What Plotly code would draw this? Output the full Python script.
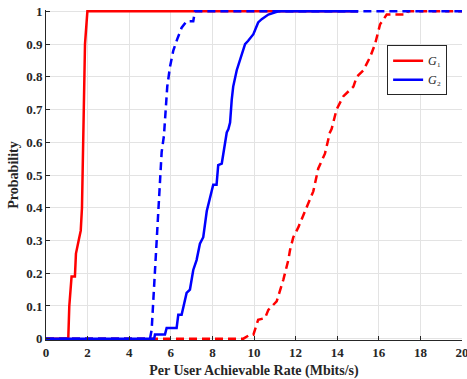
import plotly.graph_objects as go

# Red solid (G1)
g1_x = [0, 1.07, 1.12, 1.23, 1.39, 1.44, 1.57, 1.67, 1.73, 1.79, 1.875, 1.99, 15.0]
g1_y = [0, 0, 0.10, 0.19, 0.19, 0.26, 0.30, 0.33, 0.40, 0.63, 0.90, 1.0, 1.0]

# Red dashed
r2_x = [0, 9.49, 9.8, 9.97, 10.2, 10.53, 10.69, 11.09, 11.41, 11.65, 11.73, 11.89, 12.13,
        12.53, 12.85, 13.09, 13.41, 13.65, 13.73, 13.97, 14.29, 14.78, 14.94, 15.26, 15.58,
        15.82, 16.06, 16.38, 17.34, 17.4, 20]
r2_y = [0, 0, 0.012, 0.012, 0.058, 0.063, 0.088, 0.114, 0.18, 0.24, 0.27, 0.31, 0.34,
        0.40, 0.45, 0.52, 0.565, 0.63, 0.64, 0.70, 0.74, 0.77, 0.80, 0.82, 0.86,
        0.90, 0.96, 0.99, 0.99, 1.0, 1.0]

# Blue dashed
b2_x = [0, 5.0, 5.08, 5.16, 5.29, 5.32, 5.4, 5.48, 5.56, 5.67, 5.72, 5.83, 5.96, 6.12,
        6.31, 6.52, 6.76, 7.08, 7.16, 20]
b2_y = [0, 0, 0.027, 0.12, 0.26, 0.29, 0.40, 0.49, 0.57, 0.62, 0.66, 0.77, 0.83, 0.88,
        0.915, 0.95, 0.97, 0.97, 1.0, 1.0]

# Blue solid (G2)
g2_x = [0, 5.2, 5.24, 5.72, 5.8, 6.28, 6.36, 6.52, 6.76, 6.92, 7.08, 7.24, 7.4, 7.56,
        7.73, 8.04, 8.2, 8.28, 8.45, 8.6, 8.69, 8.77, 8.85, 8.93, 9.0, 9.17, 9.41, 9.57,
        9.72, 9.97, 10.2, 10.37, 10.69, 11.09, 11.17, 15.0]
g2_y = [0, 0, 0.013, 0.013, 0.033, 0.033, 0.073, 0.073, 0.14, 0.15, 0.21, 0.24, 0.29, 0.31,
        0.39, 0.47, 0.47, 0.53, 0.535, 0.60, 0.63, 0.64, 0.66, 0.73, 0.77, 0.82, 0.865, 0.90,
        0.91, 0.93, 0.966, 0.976, 0.99, 0.997, 1.0, 1.0]

x_ticks = list(range(0, 21, 2))
y_ticks = [0, 0.1, 0.2, 0.3, 0.4, 0.5, 0.6, 0.7, 0.8, 0.9, 1]
y_labels = ["0", "0.1", "0.2", "0.3", "0.4", "0.5", "0.6", "0.7", "0.8", "0.9", "1"]
series_names = ["<i>G</i>\u2081", "<i>G</i>\u2082"]

RED = "#ff0000"
BLUE = "#0000ff"
DASH = "8px,5px"

fig = go.Figure()
fig.add_trace(go.Scatter(x=g1_x, y=g1_y, mode="lines", name=series_names[0],
                         line=dict(color=RED, width=2.5)))
fig.add_trace(go.Scatter(x=r2_x, y=r2_y, mode="lines", showlegend=False,
                         line=dict(color=RED, width=2.5, dash=DASH)))
fig.add_trace(go.Scatter(x=b2_x, y=b2_y, mode="lines", showlegend=False,
                         line=dict(color=BLUE, width=2.5, dash=DASH)))
fig.add_trace(go.Scatter(x=g2_x, y=g2_y, mode="lines", name=series_names[1],
                         line=dict(color=BLUE, width=2.5)))

font_fam = "Liberation Serif, Times New Roman, serif"

fig.update_layout(
    width=467, height=379,
    margin=dict(l=46, r=5, t=10, b=39, autoexpand=False),
    plot_bgcolor="white", paper_bgcolor="white",
    font=dict(family=font_fam, size=13, color="#262626"),
    showlegend=True,
    legend=dict(x=0.82, y=0.893, xanchor="left", yanchor="top",
                bgcolor="white", bordercolor="#262626", borderwidth=1,
                font=dict(family=font_fam, size=12, color="#262626"),
                tracegroupgap=0, itemwidth=30),
    xaxis=dict(range=[0, 20], tickvals=x_ticks, ticktext=[f"<b>{t}</b>" for t in x_ticks],
               showgrid=True, gridcolor="#e3e3e3", gridwidth=1,
               showline=True, linecolor="#262626", linewidth=1,
               ticks="inside", ticklen=4, tickcolor="#262626",
               ticklabeloverflow="allow", automargin=False,
               zeroline=False, mirror=False,
               title=dict(text="<b>Per User Achievable Rate (Mbits/s)</b>", standoff=6,
                          font=dict(size=14))),
    yaxis=dict(range=[-0.004, 1.004], tickvals=y_ticks, ticktext=[f"<b>{t}</b>" for t in y_labels],
               showgrid=True, gridcolor="#e3e3e3", gridwidth=1,
               showline=True, linecolor="#262626", linewidth=1,
               ticks="inside", ticklen=4, tickcolor="#262626",
               automargin=False,
               zeroline=False, mirror=False,
               title=dict(text="<b>Probability</b>", standoff=4, font=dict(size=14))),
)

fig.write_html("out.html")
